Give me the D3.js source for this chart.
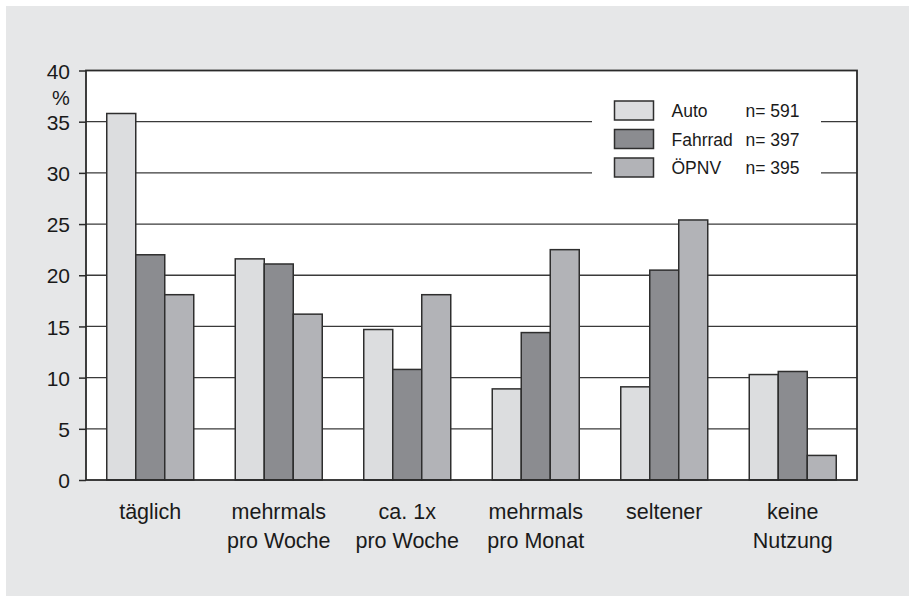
<!DOCTYPE html>
<html>
<head>
<meta charset="utf-8">
<script src="https://cdn.jsdelivr.net/npm/d3@7"></script>
<style>
  html, body { margin: 0; padding: 0; background: #fff; }
  svg { display: block; font-family: "Liberation Sans", Arial, sans-serif; }
</style>
</head>
<body>
<svg id="chart" width="909" height="596"></svg>
<script>
"use strict";

// Nutzungshäufigkeit nach Verkehrsmittel (Anteile in %)
const categories = [["täglich"], ["mehrmals", "pro Woche"], ["ca. 1x", "pro Woche"],
                    ["mehrmals", "pro Monat"], ["seltener"], ["keine", "Nutzung"]];
const series = ["Auto", "Fahrrad", "ÖPNV"];
const sampleSizes = ["n= 591", "n= 397", "n= 395"];
const auto = [35.8, 21.6, 14.7, 8.9, 9.1, 10.3];
const fahrrad = [22.0, 21.1, 10.8, 14.4, 20.5, 10.6];
const oepnv = [18.1, 16.2, 18.1, 22.5, 25.4, 2.4];
const yTicks = [0, 5, 10, 15, 20, 25, 30, 35, 40];

const colors = ["#dcdddf", "#8b8c90", "#b2b3b7"];
const values = [auto, fahrrad, oepnv];

const svg = d3.select("#chart");
const plotLeft = 86, plotRight = 857, plotTop = 70.5, plotBottom = 480;

svg.append("rect")
  .attr("x", 6).attr("y", 6).attr("width", 903).attr("height", 590)
  .attr("fill", "#e6e7e8");

svg.append("rect")
  .attr("x", plotLeft).attr("y", plotTop)
  .attr("width", plotRight - plotLeft).attr("height", plotBottom - plotTop)
  .attr("fill", "#fff");

const y = d3.scaleLinear().domain([0, 40]).range([plotBottom, plotTop]);
const x0 = d3.scaleBand().domain(d3.range(categories.length)).range([plotLeft, plotRight])
  .paddingInner(0.323).paddingOuter(0.1615);
const x1 = d3.scaleBand().domain(d3.range(series.length)).range([0, x0.bandwidth()]);

// grid lines
svg.append("g")
  .selectAll("line")
  .data(yTicks.filter(t => t > 0 && t < 40))
  .join("line")
  .attr("x1", plotLeft).attr("x2", plotRight)
  .attr("y1", d => y(d)).attr("y2", d => y(d))
  .attr("stroke", "#3a3a3a").attr("stroke-width", 1.3);

// legend box (hides the grid lines behind it)
const rowH = 28.5;
svg.append("rect")
  .attr("x", 592).attr("y", 92).attr("width", 229).attr("height", 92)
  .attr("fill", "#fff");

// bars
const groups = svg.append("g")
  .selectAll("g")
  .data(categories.map((c, i) => i))
  .join("g")
  .attr("transform", i => `translate(${x0(i)},0)`);

groups.selectAll("rect")
  .data(i => values.map((v, s) => ({s: s, v: v[i]})))
  .join("rect")
  .attr("x", d => x1(d.s))
  .attr("y", d => y(d.v))
  .attr("width", x1.bandwidth())
  .attr("height", d => y(0) - y(d.v))
  .attr("fill", d => colors[d.s])
  .attr("stroke", "#2e2e2e").attr("stroke-width", 1.5);

// frame
svg.append("rect")
  .attr("x", plotLeft).attr("y", plotTop)
  .attr("width", plotRight - plotLeft).attr("height", plotBottom - plotTop)
  .attr("fill", "none").attr("stroke", "#2a2a2a").attr("stroke-width", 1.8);

// y axis
const yAxis = svg.append("g")
  .attr("transform", `translate(${plotLeft},0)`)
  .call(d3.axisLeft(y).tickValues(yTicks).tickSize(7).tickPadding(9));
yAxis.select(".domain").remove();
yAxis.selectAll(".tick line").attr("stroke", "#2a2a2a").attr("stroke-width", 1.5);
yAxis.selectAll(".tick text")
  .attr("font-size", 21).attr("fill", "#1a1a1a")
  .attr("font-family", "Liberation Sans, Arial, sans-serif")
  .attr("dy", "0.36em");

svg.append("text")
  .attr("x", 61).attr("y", 105)
  .attr("text-anchor", "middle")
  .attr("font-size", 20).attr("fill", "#1a1a1a")
  .text("%");

// x labels
const xl = svg.append("g")
  .selectAll("text")
  .data(categories)
  .join("text")
  .attr("x", (d, i) => x0(i) + x0.bandwidth() / 2)
  .attr("y", 519)
  .attr("text-anchor", "middle")
  .attr("font-size", 21.5).attr("fill", "#1a1a1a");
xl.selectAll("tspan")
  .data(d => d)
  .join("tspan")
  .attr("x", function() { return this.parentNode.getAttribute("x"); })
  .attr("dy", (d, j) => j === 0 ? 0 : 29)
  .text(d => d);

// legend
const leg = svg.append("g")
  .selectAll("g")
  .data(series)
  .join("g")
  .attr("transform", (d, i) => `translate(0,${101 + i * rowH})`);
leg.append("rect")
  .attr("x", 614.5).attr("y", 0).attr("width", 39).attr("height", 19)
  .attr("fill", (d, i) => colors[i])
  .attr("stroke", "#2e2e2e").attr("stroke-width", 1.5);
leg.append("text")
  .attr("x", 671.5).attr("y", 16)
  .attr("font-size", 17.5).attr("fill", "#1a1a1a")
  .text(d => d);
leg.append("text")
  .attr("x", 745.5).attr("y", 16)
  .attr("font-size", 17.5).attr("fill", "#1a1a1a")
  .text((d, i) => sampleSizes[i]);
</script>
</body>
</html>
